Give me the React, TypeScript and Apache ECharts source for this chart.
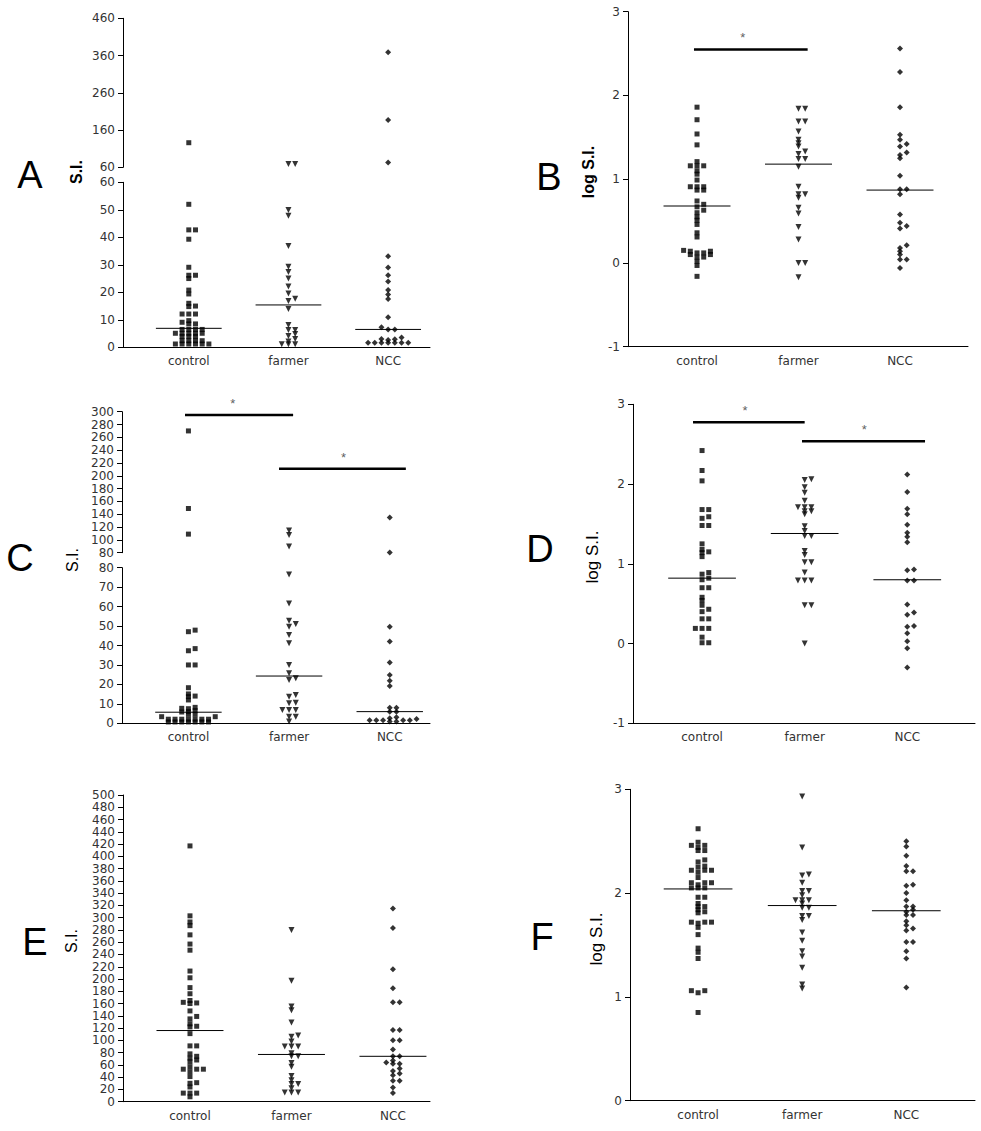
import React, { useEffect, useRef } from "react";
import * as echarts from "echarts";

const categories = ["control", "farmer", "NCC"];

// ---- Panel A : S.I. (broken axis) ----
const aControl = [126, 52, 42.7, 42.7, 39.3, 29.1, 26.2, 26.2, 25.0, 20.8, 19.4, 16.0, 15.0, 14.8, 12.1, 12.1, 12.1, 9.7, 9.1, 8.5, 8.5, 6.5, 6.5, 6.5, 6.5, 5.1, 5.1, 5.1, 5.1, 5.1, 3.9, 3.9, 3.9, 2.4, 2.4, 2.4, 2.4, 1.2, 1.2, 1.2, 1.2, 1.2, 1.2];
const aFarmer = [69, 69, 49.9, 47.8, 36.8, 29.3, 27.4, 25.0, 22.1, 19.6, 17.7, 16.8, 13.9, 8.1, 6.3, 6.3, 4.8, 4.1, 3.0, 2.1, 1.1, 1.1, 1.1];
const aNCC = [369, 187, 73, 33.1, 29.0, 26.2, 23.9, 20.8, 19.2, 17.6, 10.9, 7.3, 6.5, 6.5, 3.6, 3.0, 2.9, 2.7, 1.7, 1.7, 1.7, 1.7, 1.7, 1.7, 1.7];
const aMedians = [6.9, 15.4, 6.5];

// ---- Panel B : log S.I. ----
const bControl = [1.86, 1.71, 1.54, 1.41, 1.21, 1.16, 1.16, 1.16, 1.10, 1.06, 0.99, 0.91, 0.91, 0.91, 0.87, 0.87, 0.74, 0.70, 0.67, 0.63, 0.60, 0.55, 0.51, 0.46, 0.36, 0.31, 0.15, 0.14, 0.14, 0.12, 0.12, 0.10, 0.10, 0.07, 0.07, 0.02, -0.03, -0.16];
const bFarmer = [1.84, 1.84, 1.69, 1.69, 1.57, 1.47, 1.43, 1.39, 1.33, 1.30, 1.24, 1.24, 1.15, 0.91, 0.82, 0.82, 0.78, 0.66, 0.59, 0.43, 0.28, 0.0, 0.0, -0.17];
const bNCC = [2.56, 2.28, 1.86, 1.53, 1.47, 1.42, 1.39, 1.32, 1.29, 1.25, 1.04, 0.88, 0.88, 0.82, 0.58, 0.48, 0.44, 0.41, 0.21, 0.18, 0.14, 0.10, 0.04, 0.04, -0.06];
const bMedians = [0.68, 1.18, 0.87];
const bSig = [[0.97, 2.09, 2.55, 1.45]];

// ---- Panel C : S.I. (broken axis) ----
const cControl = [270, 149, 109, 47.9, 47.1, 38.4, 37.3, 30, 30, 18.3, 15.1, 14.0, 13.7, 12.0, 8.2, 7.7, 7.5, 6.5, 6.0, 5.8, 4.6, 4.6, 3.4, 3.4, 2.1, 2.1, 2.1, 2.1, 2.1, 2.1, 2.1, 0.7, 0.7, 0.7, 0.7, 0.7, 0.7, 0.7];
const cFarmer = [114.5, 107.8, 89.6, 76.5, 61.6, 52.7, 51.0, 49.7, 45.4, 41.1, 30.0, 25.7, 23.1, 22.3, 14.6, 13.7, 10.6, 10.3, 6.8, 6.8, 6.8, 3.4, 3.4, 0.9];
const cNCC = [135, 80.5, 49.7, 42.0, 31.2, 24.8, 21.9, 19.2, 8.0, 8.0, 6.0, 6.0, 3.1, 2.6, 2.2, 1.6, 1.6, 1.6, 1.6, 1.6, 0.9, 0.9];
const cMedians = [5.7, 24.3, 6.0];
const cSig = [[0.966, 2.04, 295, 1.44], [1.9, 3.16, 211, 2.54]];

// ---- Panel D : log S.I. ----
const dControl = [2.42, 2.17, 2.04, 1.68, 1.68, 1.59, 1.57, 1.48, 1.48, 1.25, 1.18, 1.15, 1.14, 1.09, 0.89, 0.87, 0.82, 0.80, 0.70, 0.70, 0.58, 0.54, 0.48, 0.43, 0.40, 0.31, 0.31, 0.19, 0.19, 0.19, 0.08, 0.01, 0.01];
const dFarmer = [2.06, 2.05, 1.96, 1.89, 1.79, 1.71, 1.71, 1.71, 1.66, 1.66, 1.62, 1.47, 1.41, 1.35, 1.35, 1.16, 1.11, 1.02, 1.02, 0.89, 0.79, 0.79, 0.79, 0.48, 0.48, 0.0];
const dNCC = [2.12, 1.90, 1.69, 1.62, 1.49, 1.39, 1.34, 1.27, 0.93, 0.92, 0.79, 0.79, 0.49, 0.39, 0.36, 0.22, 0.21, 0.13, 0.03, -0.06, -0.30];
const dMedians = [0.82, 1.38, 0.80];
const dSig = [[0.912, 2.0, 2.775, 1.42], [1.974, 3.173, 2.537, 2.58]];

// ---- Panel E : S.I. ----
const eControl = [417, 303, 293, 287, 272, 257, 247, 213, 202, 186, 176, 165, 162, 161, 160, 148, 139, 135, 127, 123, 122, 111, 91, 91, 78, 74, 71, 68, 65, 57, 53, 53, 53, 49, 41, 31, 30, 24, 14, 14, 14, 8];
const eFarmer = [280, 197, 155, 149, 129, 108, 106, 98, 90, 90, 90, 79, 74, 74, 63, 57, 42, 35, 29, 29, 22, 15, 15, 15];
const eNCC = [315, 283, 216, 185, 162, 162, 117, 117, 100, 100, 85, 74, 74, 67, 64, 62, 62, 54, 50, 46, 43, 34, 34, 23, 14];
const eMedians = [116, 77, 74];

// ---- Panel F : log S.I. ----
const fControl = [2.62, 2.49, 2.46, 2.46, 2.44, 2.41, 2.41, 2.32, 2.30, 2.26, 2.25, 2.22, 2.22, 2.22, 2.20, 2.15, 2.10, 2.10, 2.10, 2.08, 2.05, 2.05, 2.05, 1.96, 1.96, 1.90, 1.87, 1.87, 1.84, 1.82, 1.81, 1.72, 1.72, 1.72, 1.71, 1.67, 1.60, 1.47, 1.43, 1.37, 1.06, 1.06, 1.04, 0.85];
const fFarmer = [2.93, 2.44, 2.18, 2.17, 2.10, 2.02, 2.02, 1.98, 1.93, 1.93, 1.93, 1.90, 1.86, 1.86, 1.78, 1.78, 1.74, 1.62, 1.54, 1.44, 1.39, 1.28, 1.12, 1.08];
const fNCC = [2.50, 2.45, 2.36, 2.26, 2.21, 2.21, 2.08, 2.07, 2.00, 1.93, 1.87, 1.87, 1.84, 1.82, 1.79, 1.79, 1.73, 1.69, 1.66, 1.64, 1.53, 1.53, 1.44, 1.37, 1.09];
const fMedians = [2.04, 1.88, 1.83];

const TICK_FONT = "'DejaVu Sans', 'Liberation Sans', Arial, sans-serif";
const TEXT_FONT = "'Liberation Sans', Arial, sans-serif";

interface Seg { min: number; max: number; interval: number; top: number; height: number; }
interface Panel {
  letter: string; letterPos: [number, number];
  yName: string; yNamePos: [number, number]; yNameBold: boolean; yNameSize: number;
  left: number; width: number; xMin: number; xMax: number;
  segs: Seg[]; groups: number[][]; medians: number[]; sig: number[][];
}

const panels: Panel[] = [
  {
    letter: "A", letterPos: [30, 175], yName: "S.I.", yNamePos: [76, 172], yNameBold: true, yNameSize: 16,
    left: 123, width: 307, xMin: 0.34, xMax: 3.42,
    segs: [
      { min: 0, max: 60, interval: 10, top: 182.3, height: 165 },
      { min: 60, max: 460, interval: 100, top: 18.3, height: 149 },
    ],
    groups: [aControl, aFarmer, aNCC], medians: aMedians, sig: [],
  },
  {
    letter: "B", letterPos: [549, 177], yName: "log S.I.", yNamePos: [588, 172], yNameBold: true, yNameSize: 16,
    left: 628, width: 340, xMin: 0.32, xMax: 3.67,
    segs: [{ min: -1, max: 3, interval: 1, top: 11.7, height: 335 }],
    groups: [bControl, bFarmer, bNCC], medians: bMedians, sig: bSig,
  },
  {
    letter: "C", letterPos: [20, 558], yName: "S.I.", yNamePos: [72, 560], yNameBold: false, yNameSize: 16,
    left: 122, width: 308, xMin: 0.34, xMax: 3.40,
    segs: [
      { min: 0, max: 80, interval: 10, top: 567.7, height: 155.6 },
      { min: 80, max: 300, interval: 20, top: 411.7, height: 141 },
    ],
    groups: [cControl, cFarmer, cNCC], medians: cMedians, sig: cSig,
  },
  {
    letter: "D", letterPos: [540, 549], yName: "log S.I.", yNamePos: [592, 557], yNameBold: false, yNameSize: 17,
    left: 633, width: 342, xMin: 0.327, xMax: 3.66,
    segs: [{ min: -1, max: 3, interval: 1, top: 404.3, height: 319 }],
    groups: [dControl, dFarmer, dNCC], medians: dMedians, sig: dSig,
  },
  {
    letter: "E", letterPos: [35, 942], yName: "S.I.", yNamePos: [71, 941], yNameBold: false, yNameSize: 16,
    left: 123, width: 307, xMin: 0.34, xMax: 3.365,
    segs: [{ min: 0, max: 500, interval: 20, top: 795, height: 306.7 }],
    groups: [eControl, eFarmer, eNCC], medians: eMedians, sig: [],
  },
  {
    letter: "F", letterPos: [542, 937], yName: "log S.I.", yNamePos: [596, 939], yNameBold: false, yNameSize: 17,
    left: 630, width: 345, xMin: 0.346, xMax: 3.66,
    segs: [{ min: 0, max: 3, interval: 1, top: 789.3, height: 311.4 }],
    groups: [fControl, fFarmer, fNCC], medians: fMedians, sig: [],
  },
];

const symbols = [
  { symbol: "rect", size: 5, rotate: 0 },
  { symbol: "triangle", size: 6, rotate: 180 },
  { symbol: "diamond", size: 6, rotate: 0 },
];

function segOf(p: Panel, v: number): number {
  if (p.segs.length > 1 && v > p.segs[0].max) return 1;
  return 0;
}

function pxOf(p: Panel, v: number): number {
  const s = p.segs[segOf(p, v)];
  return s.top + (s.height * (s.max - v)) / (s.max - s.min);
}

// simple beeswarm: horizontal slot per point so that markers don't pile up
function swarm(p: Panel, values: number[], spacing: number): number[] {
  const order = values.map((_, i) => i).sort((a, b) => values[a] - values[b]);
  const placed: { slot: number; py: number }[] = [];
  const offsets = new Array(values.length).fill(0);
  for (const i of order) {
    const py = pxOf(p, values[i]);
    const near = placed.filter((q) => Math.abs(q.py - py) < 2.6);
    let slot = 0;
    for (let k = 0; k < 30; k++) {
      const cand = k === 0 ? 0 : k % 2 === 1 ? (k + 1) / 2 : -k / 2;
      if (!near.some((q) => q.slot === cand)) { slot = cand; break; }
    }
    placed.push({ slot, py });
    offsets[i] = slot * spacing;
  }
  return offsets;
}

function buildOption() {
  const grid: any[] = [];
  const xAxis: any[] = [];
  const yAxis: any[] = [];
  const series: any[] = [];
  const graphic: any[] = [];

  panels.forEach((p) => {
    const gIdx: number[] = [];
    p.segs.forEach((s, si) => {
      const gi = grid.length;
      gIdx.push(gi);
      grid.push({ left: p.left, top: s.top, width: p.width, height: s.height, containLabel: false, outerBoundsMode: "none" });
      xAxis.push({
        type: "value", gridIndex: gi, min: p.xMin, max: p.xMax, show: si === 0,
        axisLine: { show: true, onZero: false, lineStyle: { color: "#000", width: 1 } },
        axisTick: { show: false },
        splitLine: { show: false },
        axisLabel: {
          show: true, customValues: [1, 2, 3], margin: 8,
          color: "#333", fontSize: 12, fontFamily: TICK_FONT,
          formatter: (v: number) => categories[Math.round(v) - 1] ?? "",
        },
      });
      yAxis.push({
        type: "value", gridIndex: gi, min: s.min, max: s.max, interval: s.interval,
        axisLine: { show: true, onZero: false, lineStyle: { color: "#000", width: 1 } },
        axisTick: { show: true, length: 5, lineStyle: { color: "#000", width: 1 } },
        splitLine: { show: false },
        axisLabel: { color: "#333", fontSize: 12, fontFamily: TICK_FONT, margin: 8 },
      });
    });

    const ppu = p.width / (p.xMax - p.xMin);
    const spacing = 6.7 / ppu;

    p.groups.forEach((vals, g) => {
      const offs = swarm(p, vals, spacing);
      const perSeg: number[][][] = p.segs.map(() => []);
      vals.forEach((v, i) => perSeg[segOf(p, v)].push([g + 1 + offs[i], v]));
      perSeg.forEach((data, si) => {
        if (!data.length) return;
        series.push({
          type: "scatter", xAxisIndex: gIdx[si], yAxisIndex: gIdx[si],
          symbol: symbols[g].symbol, symbolSize: symbols[g].size, symbolRotate: symbols[g].rotate,
          itemStyle: { color: "#000" }, silent: true, data,
        });
      });
      const m = p.medians[g];
      const ms = gIdx[segOf(p, m)];
      series.push({
        type: "line", xAxisIndex: ms, yAxisIndex: ms, symbol: "none", silent: true,
        lineStyle: { color: "#000", width: 1 },
        data: [[g + 1 - 0.33, m], [g + 1 + 0.33, m]],
      });
    });

    p.sig.forEach(([x1, x2, y, sx]) => {
      const si = gIdx[segOf(p, y)];
      series.push({
        type: "line", xAxisIndex: si, yAxisIndex: si, symbol: "none", silent: true,
        lineStyle: { color: "#000", width: 2.5 },
        data: [[x1, y], [x2, y]],
      });
      series.push({
        type: "scatter", xAxisIndex: si, yAxisIndex: si, symbolSize: 0, silent: true,
        label: { show: true, position: "top", distance: 5, formatter: "*", fontSize: 13, color: "#333", fontFamily: TEXT_FONT },
        data: [[sx, y]],
      });
    });

    graphic.push({
      type: "text", x: p.letterPos[0], y: p.letterPos[1],
      style: {
        text: p.letter, fontSize: 38, fontFamily: TEXT_FONT, fill: "#000",
        textAlign: "center", textVerticalAlign: "middle", align: "center", verticalAlign: "middle",
      },
    });
    graphic.push({
      type: "text", x: p.yNamePos[0], y: p.yNamePos[1], rotation: Math.PI / 2,
      style: {
        text: p.yName, fontSize: p.yNameSize, fontWeight: p.yNameBold ? "bold" : "normal",
        fontFamily: TEXT_FONT, fill: "#000",
        textAlign: "center", textVerticalAlign: "middle", align: "center", verticalAlign: "middle",
      },
    });
  });

  return {
    animation: false,
    backgroundColor: "#fff",
    grid, xAxis, yAxis, series, graphic,
  };
}

export default function App() {
  const ref = useRef<HTMLDivElement>(null);
  useEffect(() => {
    if (!ref.current) return;
    const chart = echarts.init(ref.current, null, { renderer: "svg" });
    chart.setOption(buildOption() as any);
    return () => chart.dispose();
  }, []);
  return (
    <div
      ref={ref}
      style={{ position: "absolute", left: 0, top: 0, width: 981, height: 1131, background: "#fff" }}
    />
  );
}
